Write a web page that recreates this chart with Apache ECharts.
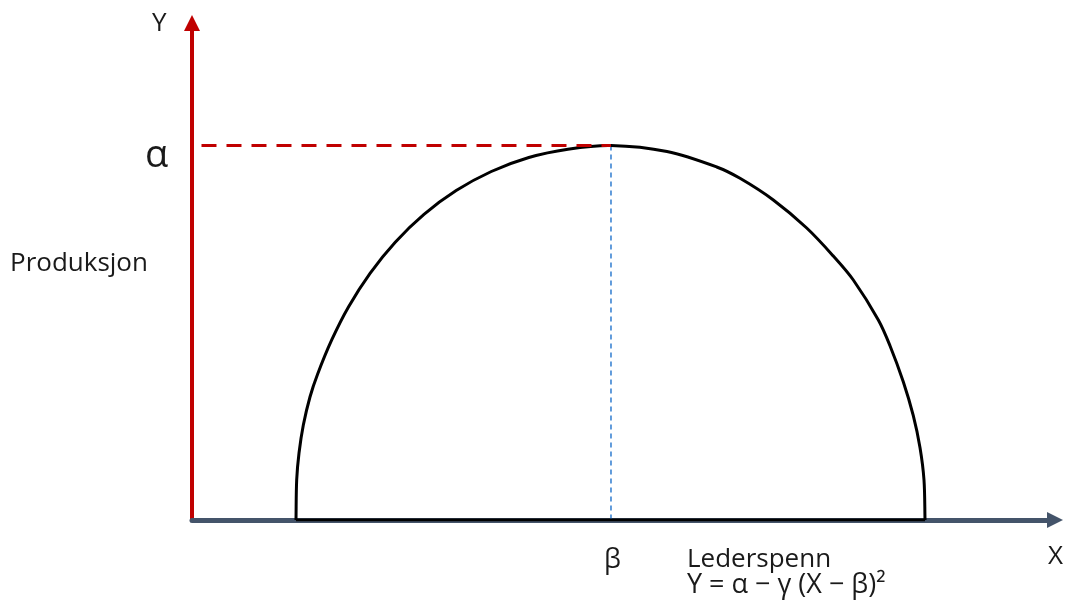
<!DOCTYPE html>
<html>
<head>
<meta charset="utf-8">
<style>
    html, body { margin: 0; padding: 0; background: #fff; }
    #chart { width: 1066px; height: 601px; }
</style>
<script src="https://cdn.jsdelivr.net/npm/echarts@6/dist/echarts.min.js"></script>
</head>
<body>
<div id="chart"></div>
<script>
// leder-kurve, lest av bildet (x = lederspenn, y = produksjon)
const curveX = [12.05, 12.13, 12.40, 12.90, 13.67, 14.54, 16.19, 18.13, 20.63, 23.55, 26.88, 30.61, 34.68, 39.03, 43.56, 48.55,
    55.04, 60.80, 63.50, 67.36, 71.23, 74.31, 76.63, 79.53, 80.88, 82.42, 83.58, 84.36, 84.82, 84.94];
const curveY = [0, 8.05, 13.48, 19.11, 24.75, 29.28, 36.22, 42.86, 49.64, 55.90, 61.49, 66.28, 70.12, 72.94, 74.61, 75.35,
    74.14, 71.03, 68.75, 64.39, 58.75, 53.12, 48.29, 40.24, 35.07, 27.83, 20.99, 14.55, 8.05, 0];
const peak = [48.55, 75.35]; // (beta, alpha)
const baseX = [12.05, 84.94];

const fontFamily = "'Open Sans', sans-serif";
const textColor = "#1a1a1a";

const chart = echarts.init(document.getElementById("chart"));

const noAxisBits = {
    axisTick: {show: false},
    axisLabel: {show: false},
    splitLine: {show: false}
};

// tekst som ligger utenfor plottet
const label = (text, left, y, size) => ({
    type: "text",
    x: left,
    y: y,
    style: {text: text, font: `${size}px ${fontFamily}`, fill: textColor, verticalAlign: "middle"}
});

// glatt kurve gjennom punktene (bezier med tangent fra nabopunktene)
const renderCurve = (params, api) => {
    if (params.dataIndex !== 0) return null;
    const pts = curveX.map((x, i) => api.coord([x, curveY[i]]));
    const n = pts.length;
    const unit = (a, b) => {
        const dx = b[0] - a[0], dy = b[1] - a[1];
        const len = Math.hypot(dx, dy) || 1;
        return [dx / len, dy / len];
    };
    const tangents = pts.map((p, i) => {
        if (i === 0) return unit(pts[0], pts[1]);
        if (i === n - 1) return unit(pts[n - 2], pts[n - 1]);
        return unit(pts[i - 1], pts[i + 1]);
    });
    let d = `M${pts[0][0]},${pts[0][1]}`;
    for (let i = 0; i < n - 1; i++) {
        const a = pts[i], b = pts[i + 1];
        const k = Math.hypot(b[0] - a[0], b[1] - a[1]) / 3;
        const c1 = [a[0] + tangents[i][0] * k, a[1] + tangents[i][1] * k];
        const c2 = [b[0] - tangents[i + 1][0] * k, b[1] - tangents[i + 1][1] * k];
        d += ` C${c1[0]},${c1[1]} ${c2[0]},${c2[1]} ${b[0]},${b[1]}`;
    }
    return {
        type: "path",
        shape: {pathData: d},
        style: {stroke: "#000000", lineWidth: 3, fill: "none"}
    };
};

const option = {
    backgroundColor: "#ffffff",
    animation: false,
    grid: {left: 192, right: 11, top: 23, bottom: 81},
    xAxis: {
        type: "value",
        min: 0,
        max: 100,
        axisLine: {
            show: true,
            symbol: ["none", "triangle"],
            symbolSize: [16, 16],
            lineStyle: {color: "#44546A", width: 5}
        },
        ...noAxisBits
    },
    yAxis: {
        type: "value",
        min: 0,
        max: 100,
        axisLine: {
            show: true,
            symbol: ["none", "triangle"],
            symbolSize: [16, 16],
            lineStyle: {color: "#C00000", width: 4}
        },
        ...noAxisBits
    },
    series: [
        {
            // stiplet linje ned fra toppunktet
            type: "line",
            data: [[peak[0], peak[1]], [peak[0], 0]],
            showSymbol: false,
            lineStyle: {color: "#2E7BCF", width: 1.5, type: [5, 4]},
            z: 1
        },
        {
            type: "custom",
            data: curveX.map((x, i) => [x, curveY[i]]),
            encode: {x: 0, y: 1},
            renderItem: renderCurve,
            clip: false,
            z: 2
        },
        {
            type: "line",
            data: baseX.map(x => [x, 0]),
            showSymbol: false,
            lineStyle: {color: "#000000", width: 3},
            z: 2
        },
        {
            // alpha-nivaa
            type: "line",
            data: [[1.1, peak[1]], [peak[0], peak[1]]],
            showSymbol: false,
            lineStyle: {color: "#C00000", width: 3, type: [15, 10]},
            z: 3
        }
    ],
    graphic: [
        label("Y", 152, 24, 26),
        label("α", 145, 156, 38),
        label("Produksjon", 10, 264, 26),
        label("β", 604, 560, 27),
        label("Lederspenn", 687, 560, 26),
        label("Y = α − γ (X − β)²", 687, 585, 27),
        label("X", 1048, 557, 26)
    ]
};

chart.setOption(option);
window.addEventListener("resize", () => chart.resize());
</script>
</body>
</html>
